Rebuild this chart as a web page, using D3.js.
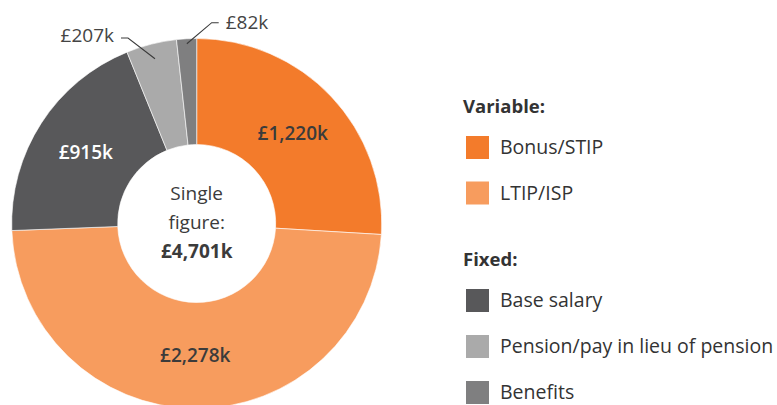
<!DOCTYPE html>
<html>
<head>
  <meta charset="utf-8">
  <title>Single figure donut</title>
  <script src="https://d3js.org/d3.v7.min.js"></script>
  <style>
    body { margin: 0; background: #fff; }
    text { font-family: "Open Sans", sans-serif; }
  </style>
</head>
<body>
<script>
// data
var categories = ["Bonus/STIP", "LTIP/ISP", "Base salary", "Pension/pay in lieu of pension", "Benefits"];
var values = [1220, 2278, 915, 207, 82];
var labels = ["£1,220k", "£2,278k", "£915k", "£207k", "£82k"];
var groups = ["Variable:", "Fixed:"];
var centreLines = ["Single", "figure:", "£4,701k"];

var colours = ["#f37b2b", "#f79c5e", "#58585a", "#aaaaaa", "#7f7f80"];
var labelColours = ["#3b3b3b", "#3b3b3b", "#ffffff"];

var width = 777, height = 405;
var cx = 196.7, cy = 223.5, rOuter = 185, rInner = 79;

var svg = d3.select("body").append("svg").attr("width", width).attr("height", height);

var pie = d3.pie().sort(null).value(function(d) { return d; });
var arcs = pie(values);
var arc = d3.arc().innerRadius(rInner).outerRadius(rOuter);

var g = svg.append("g").attr("transform", "translate(" + cx + "," + cy + ")");

g.selectAll("path")
  .data(arcs)
  .enter()
  .append("path")
  .attr("d", arc)
  .attr("fill", function(d, i) { return colours[i]; })
  .attr("stroke", "#fff")
  .attr("stroke-width", 0.6);

// labels inside the big slices
g.selectAll("text.in")
  .data(arcs.slice(0, 3))
  .enter()
  .append("text")
  .attr("class", "in")
  .attr("x", function(d) { return arc.centroid(d)[0]; })
  .attr("y", function(d) { return arc.centroid(d)[1]; })
  .attr("dy", "0.35em")
  .attr("text-anchor", "middle")
  .attr("font-size", 19)
  .attr("font-weight", 600)
  .attr("fill", function(d, i) { return labelColours[i]; })
  .text(function(d, i) { return labels[i]; });

// small slices: labels outside with leader lines
var small = [
  { i: 3, r: 170, knee: [-68.7, -185.5], end: [-75.7, -185.5], anchor: "end" },
  { i: 4, r: 180, knee: [15, -200.8], end: [22, -200.8], anchor: "start" }
];
small.forEach(function(s) {
  var p = d3.arc().innerRadius(s.r).outerRadius(s.r).centroid(arcs[s.i]);
  g.append("polyline")
    .attr("points", [p, s.knee, s.end].map(function(q) { return q.join(","); }).join(" "))
    .attr("fill", "none")
    .attr("stroke", "#3b3b3b")
    .attr("stroke-width", 1.1);
  g.append("text")
    .attr("x", s.end[0] + (s.anchor === "end" ? -7 : 7))
    .attr("y", s.end[1] + (s.anchor === "end" ? -3 : 0))
    .attr("dy", "0.35em")
    .attr("text-anchor", s.anchor)
    .attr("font-size", 19)
    .attr("font-weight", 400)
    .attr("fill", "#444")
    .text(labels[s.i]);
});

// centre text
g.selectAll("text.c")
  .data(centreLines)
  .enter()
  .append("text")
  .attr("class", "c")
  .attr("x", 0)
  .attr("y", function(d, i) { return -30 + i * 29; })
  .attr("dy", "0.35em")
  .attr("text-anchor", "middle")
  .attr("font-size", 19)
  .attr("font-weight", function(d, i) { return i === 2 ? 700 : 400; })
  .attr("fill", "#3b3b3b")
  .text(function(d) { return d; });

// legend
var legend = svg.append("g").attr("transform", "translate(463,0)");
var groupY = [106.5, 260];
var itemY = [147.5, 193, 300.5, 346.5, 392.5];

legend.selectAll("text.grp")
  .data(groups)
  .enter()
  .append("text")
  .attr("class", "grp")
  .attr("x", 0)
  .attr("y", function(d, i) { return groupY[i]; })
  .attr("dy", "0.35em")
  .attr("font-size", 18.5)
  .attr("font-weight", 700)
  .attr("fill", "#333")
  .text(function(d) { return d; });

var items = legend.selectAll("g.item")
  .data(categories)
  .enter()
  .append("g")
  .attr("class", "item")
  .attr("transform", function(d, i) { return "translate(3," + itemY[i] + ")"; });

items.append("rect")
  .attr("x", 0)
  .attr("y", -11.5)
  .attr("width", 23)
  .attr("height", 23)
  .attr("fill", function(d, i) { return colours[i]; });

items.append("text")
  .attr("x", 34)
  .attr("y", 0)
  .attr("dy", "0.35em")
  .attr("font-size", 19.5)
  .attr("font-weight", 400)
  .attr("fill", "#333")
  .text(function(d) { return d; });
</script>
</body>
</html>
